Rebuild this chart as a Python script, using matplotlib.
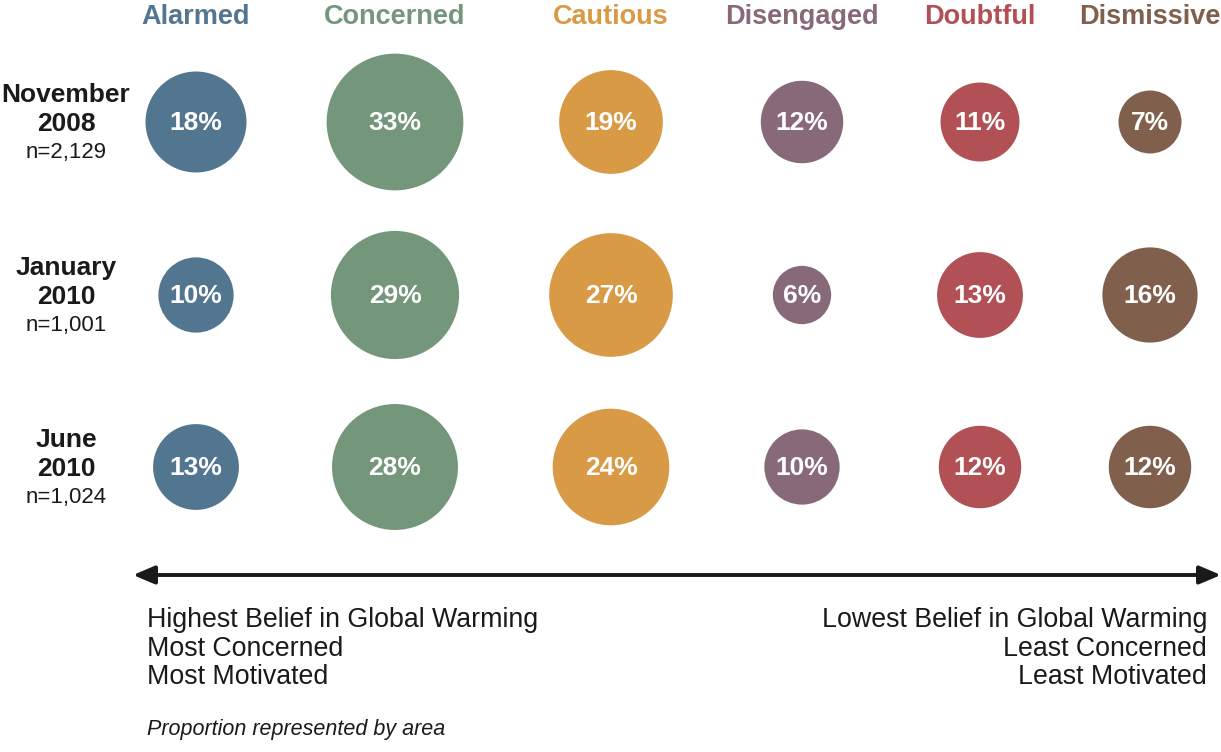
import numpy as np
import matplotlib

matplotlib.use("Agg")
import matplotlib.pyplot as plt
from matplotlib.patches import Circle

plt.rcParams["font.family"] = ["Liberation Sans", "DejaVu Sans"]

# data
segments = ["Alarmed", "Concerned", "Cautious", "Disengaged", "Doubtful", "Dismissive"]
colors = ["#527590", "#74967b", "#d99a45", "#88697a", "#b25155", "#805f4c"]
survey_months = ["November", "January", "June"]
survey_years = ["2008", "2010", "2010"]
sample_sizes = ["n=2,129", "n=1,001", "n=1,024"]
nov_2008 = [18, 33, 19, 12, 11, 7]
jan_2010 = [10, 29, 27, 6, 13, 16]
jun_2010 = [13, 28, 24, 10, 12, 12]
rows = [nov_2008, jan_2010, jun_2010]
left_lines = ["Highest Belief in Global Warming", "Most Concerned", "Most Motivated"]
right_lines = ["Lowest Belief in Global Warming", "Least Concerned", "Least Motivated"]

# layout (pixel units)
W, H = 1221, 752
col_x = [196, 395, 611, 802, 980, 1150]
row_y = [122, 295, 467]
k = 11.9  # radius per sqrt(percent) -> area proportional
ink = "#1a1a1a"

fig = plt.figure(figsize=(W / 100, H / 100), dpi=100)
ax = fig.add_axes([0, 0, 1, 1])
ax.set_xlim(0, W)
ax.set_ylim(H, 0)
ax.set_aspect("equal")
ax.axis("off")

for name, c, x in zip(segments, colors, col_x):
    ax.text(x, 24, name, color=c, fontsize=19.5, fontweight="bold",
            ha="center", va="baseline")

for y, month, year, n, vals in zip(row_y, survey_months, survey_years, sample_sizes, rows):
    ax.text(66, y - 20, month, fontsize=19, fontweight="bold", ha="center",
            va="baseline", color=ink)
    ax.text(66, y + 9, year, fontsize=19, fontweight="bold", ha="center",
            va="baseline", color=ink)
    ax.text(66, y + 36, n, fontsize=16, ha="center", va="baseline", color=ink)
    for x, v, c in zip(col_x, vals, colors):
        ax.add_patch(Circle((x, y), k * np.sqrt(v), color=c, lw=0))
        ax.text(x, y + 8, f"{v}%", color="white", fontsize=19, fontweight="bold",
                ha="center", va="baseline")

ax.annotate("", xy=(1221, 575), xytext=(133, 575),
            arrowprops=dict(arrowstyle="<|-|>,head_length=1.3,head_width=0.55",
                            color=ink, lw=2.8, shrinkA=0, shrinkB=0))

for i, (lt, rt) in enumerate(zip(left_lines, right_lines)):
    y = 627 + i * 28.5
    ax.text(147, y, lt, fontsize=19.3, ha="left", va="baseline", color=ink)
    ax.text(1207, y, rt, fontsize=19.3, ha="right", va="baseline", color=ink)
ax.text(147, 735, "Proportion represented by area", fontsize=15.5,
        style="italic", ha="left", va="baseline", color=ink)

fig.savefig("out.png", dpi=100)
